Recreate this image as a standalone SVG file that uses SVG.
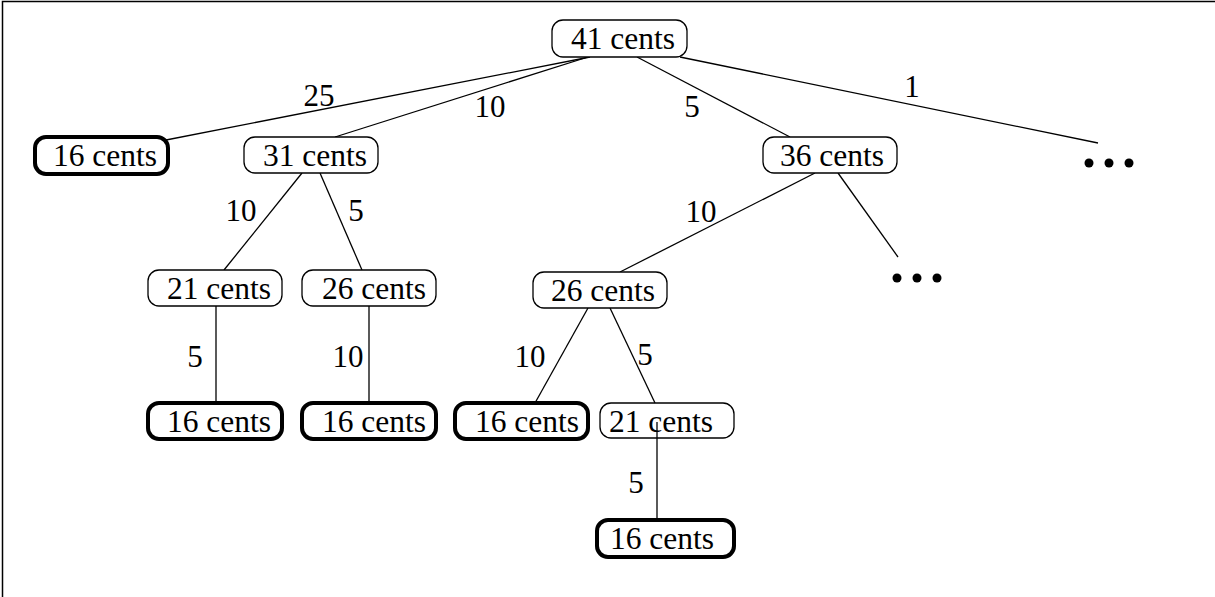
<svg xmlns="http://www.w3.org/2000/svg" width="1215" height="597" viewBox="0 0 1215 597">
<style>
.n{fill:#fff;stroke:#000;stroke-width:1.3}
.g{fill:#fff;stroke:#000;stroke-width:4}
.t{font-size:31.5px;fill:#000;text-anchor:middle}
.l{font-size:31px;fill:#000;text-anchor:middle}
.e{stroke:#000;stroke-width:1.3;fill:none}
</style>
<rect width="1215" height="597" fill="#fff"/>
<path d="M2.5,597 V1.5 H1215" stroke="#000" stroke-width="1.5" fill="none"/>
<g font-family="'Liberation Serif', 'Times New Roman', 'DejaVu Serif', serif">
<g id="connectors">
<line class="e" x1="590" y1="57" x2="166" y2="140"/>
<line class="e" x1="588" y1="57" x2="335" y2="137"/>
<line class="e" x1="637" y1="57" x2="790" y2="137"/>
<line class="e" x1="680" y1="57" x2="1098" y2="143"/>
<line class="e" x1="302" y1="173" x2="224" y2="270"/>
<line class="e" x1="320" y1="173" x2="362" y2="270"/>
<line class="e" x1="815" y1="173" x2="620" y2="272"/>
<line class="e" x1="838" y1="173" x2="898" y2="257"/>
<line class="e" x1="216" y1="306" x2="216" y2="403"/>
<line class="e" x1="369" y1="306" x2="369" y2="403"/>
<line class="e" x1="588" y1="308" x2="535" y2="403"/>
<line class="e" x1="610" y1="308" x2="655" y2="403"/>
<line class="e" x1="657" y1="422" x2="657" y2="520"/>
<text class="l" x="319" y="106">25</text>
<text class="l" x="490" y="117">10</text>
<text class="l" x="692" y="117">5</text>
<text class="l" x="912" y="97">1</text>
<text class="l" x="241" y="221">10</text>
<text class="l" x="356" y="221">5</text>
<text class="l" x="701" y="222">10</text>
<text class="l" x="195" y="367">5</text>
<text class="l" x="348" y="367">10</text>
<text class="l" x="530" y="367">10</text>
<text class="l" x="645" y="365">5</text>
<text class="l" x="636" y="493">5</text>
</g>
<g id="n41"><rect class="n" x="552" y="20" width="135" height="37" rx="11"/><text class="t" x="623" y="49">41 cents</text></g>
<g id="n16a"><rect class="g" x="35" y="137" width="133" height="37" rx="11"/><text class="t" x="105" y="166">16 cents</text></g>
<g id="n31"><rect class="n" x="244" y="137" width="134" height="36" rx="11"/><text class="t" x="315" y="166">31 cents</text></g>
<g id="n36"><rect class="n" x="763" y="137" width="134" height="36" rx="11"/><text class="t" x="832" y="166">36 cents</text></g>
<g id="dots1"><circle cx="1089" cy="163" r="4.5"/><circle cx="1109" cy="163" r="4.5"/><circle cx="1129" cy="163" r="4.5"/></g>
<g id="n21a"><rect class="n" x="148" y="270" width="134" height="36" rx="11"/><text class="t" x="219" y="299">21 cents</text></g>
<g id="n26a"><rect class="n" x="302" y="270" width="134" height="36" rx="11"/><text class="t" x="374" y="299">26 cents</text></g>
<g id="n26b"><rect class="n" x="533" y="272" width="134" height="36" rx="11"/><text class="t" x="603" y="301">26 cents</text></g>
<g id="dots2"><circle cx="897" cy="278" r="4.5"/><circle cx="917" cy="278" r="4.5"/><circle cx="937" cy="278" r="4.5"/></g>
<g id="n16b"><rect class="g" x="148" y="403" width="134" height="36" rx="11"/><text class="t" x="219" y="432">16 cents</text></g>
<g id="n16c"><rect class="g" x="302" y="403" width="134" height="36" rx="11"/><text class="t" x="374" y="432">16 cents</text></g>
<g id="n16d"><rect class="g" x="455" y="403" width="133" height="36" rx="11"/><text class="t" x="527" y="432">16 cents</text></g>
<g id="n21b"><rect class="n" x="600" y="403" width="134" height="35" rx="11" style="fill:none"/><text class="t" x="661" y="432">21 cents</text></g>
<g id="n16e"><rect class="g" x="597" y="520" width="137" height="37" rx="11"/><text class="t" x="662" y="549">16 cents</text></g>
</g>
</svg>
